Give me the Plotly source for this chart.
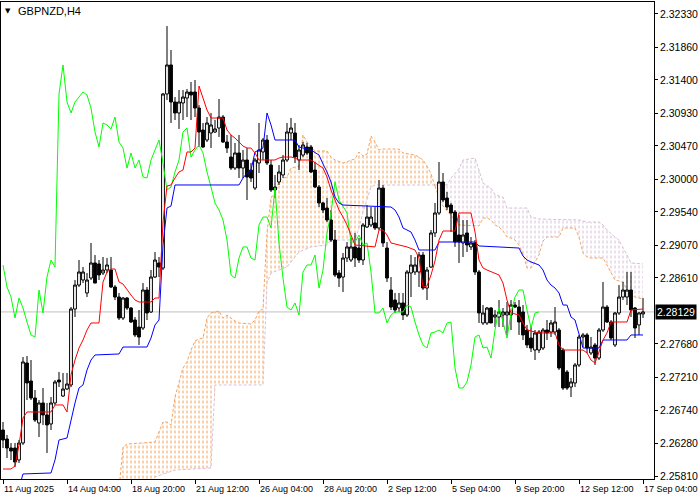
import plotly.graph_objects as go

symbol_label = "GBPNZD,H4"
last_price = 2.28129
chikou_shift = 26
cloud_cross = 108

bars = list(range(161))

opens = [2.26464, 2.26337, 2.26210, 2.26210, 2.26041, 2.26281, 2.27409, 2.27155, 2.26915, 2.26563,
         2.26845, 2.26676, 2.26549, 2.26845, 2.27169, 2.26943, 2.27042, 2.27099, 2.28170, 2.28508,
         2.28579, 2.28396, 2.28607, 2.28819, 2.28805, 2.28678, 2.28720, 2.28720, 2.28480, 2.28339,
         2.28043, 2.28325, 2.28184, 2.28015, 2.27916, 2.27902, 2.28438, 2.28128, 2.28621, 2.28819,
         2.28748, 2.31202, 2.31611, 2.31089, 2.30934, 2.31075, 2.31145, 2.31230, 2.31230, 2.31004,
         2.30694, 2.30553, 2.30652, 2.30666, 2.30722, 2.30877, 2.30525, 2.30313, 2.30158, 2.30370,
         2.30158, 2.30271, 2.30130, 2.29876, 2.30229, 2.30384, 2.30553, 2.30200, 2.29848, 2.29961,
         2.30060, 2.30271, 2.30652, 2.30652, 2.30271, 2.30341, 2.30454, 2.30454, 2.30130, 2.29890,
         2.29665, 2.29594, 2.29425, 2.29143, 2.28678, 2.28621, 2.28889, 2.28861, 2.29045, 2.29030,
         2.28861, 2.29326, 2.29355, 2.29383, 2.29312, 2.29876, 2.29030, 2.28438, 2.28297, 2.28184,
         2.28255, 2.28086, 2.28678, 2.28692, 2.28692, 2.28931, 2.28466, 2.28762, 2.29242, 2.29524,
         2.29961, 2.29735, 2.29636, 2.29538, 2.29214, 2.29101, 2.29242, 2.29045, 2.29101, 2.28692,
         2.27973, 2.27973, 2.28184, 2.28057, 2.28057, 2.28086, 2.28086, 2.28086, 2.28226, 2.28198,
         2.28128, 2.27874, 2.27761, 2.27592, 2.27592, 2.27620, 2.27874, 2.27846, 2.27846, 2.27874,
         2.27592, 2.27282, 2.27070, 2.27127, 2.27381, 2.27775, 2.27804, 2.27550, 2.27663, 2.27479,
         2.27874, 2.28198, 2.27987, 2.27663, 2.28114, 2.28339, 2.28339, 2.28438, 2.28184, 2.27945,
         2.28100]

highs = [2.26577, 2.26394, 2.26281, 2.26281, 2.26323, 2.27493, 2.27507, 2.27451, 2.27028, 2.26887,
         2.27056, 2.26845, 2.26929, 2.27169, 2.27282, 2.27268, 2.27268, 2.28198, 2.28579, 2.28861,
         2.28762, 2.28678, 2.29101, 2.28931, 2.28861, 2.28903, 2.28889, 2.28903, 2.28508, 2.28396,
         2.28339, 2.28339, 2.28198, 2.28057, 2.28156, 2.28536, 2.28480, 2.28720, 2.28974, 2.28903,
         2.31216, 2.32160, 2.31822, 2.31159, 2.31258, 2.31258, 2.31272, 2.31371, 2.31399, 2.31046,
         2.30793, 2.30877, 2.30934, 2.30835, 2.31131, 2.30905, 2.30624, 2.30624, 2.30511, 2.30624,
         2.30412, 2.30440, 2.30229, 2.30299, 2.30793, 2.30581, 2.30624, 2.30271, 2.30060, 2.30200,
         2.30341, 2.30793, 2.30863, 2.30793, 2.30483, 2.30525, 2.30511, 2.30483, 2.30243, 2.29919,
         2.29679, 2.29735, 2.29566, 2.29284, 2.28720, 2.28960, 2.29115, 2.29171, 2.29242, 2.29171,
         2.29383, 2.29636, 2.29608, 2.29608, 2.29989, 2.29919, 2.29115, 2.28621, 2.28396, 2.28396,
         2.28396, 2.28720, 2.28931, 2.28903, 2.28974, 2.28974, 2.28762, 2.29284, 2.29665, 2.30243,
         2.30088, 2.29820, 2.29665, 2.29566, 2.29496, 2.29425, 2.29425, 2.29185, 2.29143, 2.28720,
         2.28226, 2.28198, 2.28198, 2.28156, 2.28297, 2.28184, 2.28269, 2.28297, 2.28269, 2.28297,
         2.28226, 2.27945, 2.27916, 2.27874, 2.27874, 2.27902, 2.28015, 2.28015, 2.28198, 2.27902,
         2.27620, 2.27310, 2.27197, 2.27409, 2.27804, 2.27832, 2.27832, 2.27775, 2.27691, 2.27902,
         2.28551, 2.28226, 2.28015, 2.28128, 2.28508, 2.28551, 2.28692, 2.28692, 2.28198, 2.28128,
         2.28325]

lows = [2.26210, 2.26069, 2.26041, 2.25942, 2.25999, 2.26253, 2.26887, 2.26887, 2.26577, 2.26365,
        2.26535, 2.26140, 2.26464, 2.26817, 2.27070, 2.26929, 2.27028, 2.27070, 2.28057, 2.28480,
        2.28536, 2.28339, 2.28579, 2.28536, 2.28579, 2.28650, 2.28678, 2.28466, 2.28297, 2.28015,
        2.28015, 2.28156, 2.27973, 2.27775, 2.27663, 2.27874, 2.28015, 2.28114, 2.28607, 2.28621,
        2.28720, 2.31117, 2.30793, 2.30835, 2.30709, 2.30835, 2.30877, 2.30835, 2.30877, 2.30454,
        2.30440, 2.30525, 2.30440, 2.30652, 2.30596, 2.30511, 2.30370, 2.30130, 2.30130, 2.30017,
        2.30017, 2.29707, 2.29961, 2.29848, 2.30088, 2.30271, 2.30200, 2.29820, 2.29735, 2.29919,
        2.30017, 2.30243, 2.30553, 2.30229, 2.30130, 2.30313, 2.30341, 2.30088, 2.29876, 2.29608,
        2.29524, 2.29397, 2.29115, 2.28621, 2.28480, 2.28410, 2.28833, 2.28833, 2.28762, 2.28819,
        2.28791, 2.29312, 2.29326, 2.29284, 2.29284, 2.29045, 2.28551, 2.28156, 2.28114, 2.28128,
        2.28015, 2.28057, 2.28339, 2.28650, 2.28480, 2.28438, 2.28297, 2.28748, 2.29185, 2.29496,
        2.29679, 2.29566, 2.29256, 2.29045, 2.28819, 2.28903, 2.28974, 2.29002, 2.28650, 2.27973,
        2.27945, 2.27945, 2.27973, 2.27916, 2.27916, 2.27916, 2.27804, 2.27874, 2.28184, 2.27804,
        2.27733, 2.27620, 2.27564, 2.27451, 2.27550, 2.27592, 2.27733, 2.27775, 2.27804, 2.27310,
        2.27028, 2.27028, 2.26929, 2.27070, 2.27352, 2.27634, 2.27550, 2.27522, 2.27381, 2.27451,
        2.27846, 2.27973, 2.27733, 2.27634, 2.28086, 2.28297, 2.28226, 2.28057, 2.27761, 2.27804,
        2.28043]

closes = [2.26323, 2.26210, 2.26168, 2.26013, 2.26281, 2.27423, 2.27127, 2.26915, 2.26605, 2.26845,
          2.26676, 2.26535, 2.26845, 2.27141, 2.27141, 2.27042, 2.27113, 2.28170, 2.28508, 2.28692,
          2.28692, 2.28579, 2.28819, 2.28536, 2.28650, 2.28720, 2.28791, 2.28480, 2.28339, 2.28043,
          2.28325, 2.28184, 2.27987, 2.27804, 2.27775, 2.28438, 2.28114, 2.28621, 2.28861, 2.28762,
          2.31202, 2.31611, 2.31089, 2.30934, 2.31089, 2.31159, 2.31230, 2.31188, 2.31004, 2.30666,
          2.30454, 2.30793, 2.30765, 2.30709, 2.30877, 2.30525, 2.30440, 2.30158, 2.30370, 2.30158,
          2.30271, 2.30031, 2.30017, 2.30271, 2.30412, 2.30553, 2.30229, 2.29848, 2.29890, 2.30102,
          2.30271, 2.30666, 2.30722, 2.30313, 2.30412, 2.30483, 2.30370, 2.30102, 2.29890, 2.29665,
          2.29566, 2.29425, 2.29143, 2.28650, 2.28607, 2.28889, 2.29045, 2.29045, 2.28889, 2.28861,
          2.29355, 2.29467, 2.29467, 2.29312, 2.29876, 2.29101, 2.28607, 2.28198, 2.28156, 2.28255,
          2.28086, 2.28692, 2.28791, 2.28791, 2.28931, 2.28466, 2.28720, 2.29242, 2.29524, 2.29961,
          2.29707, 2.29608, 2.29524, 2.29115, 2.29115, 2.29214, 2.29073, 2.29101, 2.28692, 2.28114,
          2.28114, 2.28184, 2.27973, 2.28086, 2.28128, 2.28128, 2.28128, 2.28226, 2.28198, 2.27987,
          2.27804, 2.27663, 2.27620, 2.27832, 2.27846, 2.27874, 2.27832, 2.27973, 2.27987, 2.27338,
          2.27056, 2.27056, 2.27141, 2.27381, 2.27775, 2.27804, 2.27620, 2.27634, 2.27479, 2.27874,
          2.28198, 2.27987, 2.27761, 2.28114, 2.28339, 2.28438, 2.28438, 2.28156, 2.27902, 2.28114,
          2.28129]

# Ichimoku lines as (bar, price) points
tenkan = [(0, 2.25914), (2, 2.25914), (3, 2.25956), (4, 2.26253), (5, 2.26633), (6, 2.26718),
          (12, 2.26718), (13, 2.26817), (15, 2.26817), (16, 2.26718), (17, 2.27240), (18, 2.27451),
          (19, 2.27620), (20, 2.27733), (21, 2.27874), (22, 2.27973), (24, 2.27973), (25, 2.28551),
          (26, 2.28692), (27, 2.28734), (28, 2.28734), (29, 2.28551), (30, 2.28522), (31, 2.28438),
          (32, 2.28367), (33, 2.28297), (34, 2.28269), (37, 2.28269), (38, 2.28325), (39, 2.28325),
          (40, 2.29397), (41, 2.29904), (42, 2.29919), (43, 2.30017), (44, 2.30102), (45, 2.30130),
          (46, 2.30384), (47, 2.30384), (48, 2.30440), (49, 2.31314), (50, 2.31131), (51, 2.30976),
          (52, 2.30863), (55, 2.30863), (56, 2.30694), (57, 2.30624), (58, 2.30581), (59, 2.30525),
          (60, 2.30468), (61, 2.30440), (62, 2.30440), (63, 2.30370), (64, 2.30271), (68, 2.30271),
          (69, 2.30299), (70, 2.30313), (72, 2.30313), (73, 2.30299), (74, 2.30271), (77, 2.30271),
          (79, 2.30200), (80, 2.30158), (81, 2.30031), (82, 2.29848), (83, 2.29707), (84, 2.29566),
          (85, 2.29467), (86, 2.29355), (87, 2.29214), (88, 2.29073), (93, 2.29045), (94, 2.29284),
          (95, 2.29284), (96, 2.29214), (97, 2.29101), (99, 2.29073), (101, 2.29045), (103, 2.29002),
          (104, 2.28889), (105, 2.28480), (106, 2.28494), (107, 2.28650), (108, 2.28847), (109, 2.29143),
          (110, 2.29270), (113, 2.29270), (114, 2.29524), (117, 2.29524), (118, 2.29256), (119, 2.28861),
          (120, 2.28748), (121, 2.28720), (124, 2.28650), (125, 2.28536), (126, 2.28297), (127, 2.28114),
          (129, 2.28086), (130, 2.27973), (131, 2.27874), (134, 2.27832), (138, 2.27832), (139, 2.27663),
          (140, 2.27592), (145, 2.27592), (146, 2.27550), (147, 2.27451), (148, 2.27409), (149, 2.27564),
          (150, 2.27733), (151, 2.27832), (152, 2.27987), (156, 2.27987), (157, 2.28156), (160, 2.28170)]

kijun = [(0, 2.25646), (4, 2.25646), (5, 2.25844), (12, 2.25858), (13, 2.26041), (14, 2.26323),
         (16, 2.26351), (17, 2.26605), (18, 2.26845), (19, 2.27056), (20, 2.27099), (21, 2.27310),
         (22, 2.27451), (23, 2.27522), (29, 2.27536), (30, 2.27634), (36, 2.27634), (37, 2.27761),
         (38, 2.27945), (39, 2.28015), (40, 2.29073), (41, 2.29594), (42, 2.29622), (43, 2.29919),
         (59, 2.29919), (60, 2.30017), (61, 2.30088), (62, 2.30130), (63, 2.30384), (65, 2.30440),
         (66, 2.30934), (67, 2.30765), (68, 2.30553), (73, 2.30553), (74, 2.30454), (77, 2.30412),
         (79, 2.30341), (80, 2.30215), (81, 2.30102), (82, 2.29961), (83, 2.29749), (84, 2.29665),
         (85, 2.29636), (97, 2.29608), (98, 2.29566), (99, 2.29467), (100, 2.29312), (102, 2.29256),
         (103, 2.29143), (104, 2.29002), (108, 2.29002), (109, 2.29115), (118, 2.29115), (119, 2.29059),
         (126, 2.29045), (129, 2.29030), (130, 2.28917), (131, 2.28861), (132, 2.28833), (134, 2.28791),
         (135, 2.28720), (136, 2.28579), (137, 2.28508), (138, 2.28466), (139, 2.28396), (140, 2.28226),
         (141, 2.28226), (142, 2.28057), (143, 2.28015), (144, 2.27818), (145, 2.27620), (149, 2.27620),
         (150, 2.27733), (156, 2.27733), (157, 2.27804), (160, 2.27804)]

span_a = [(29, 2.25618), (30, 2.26224), (31, 2.26266), (38, 2.26295), (39, 2.26436), (40, 2.26577),
          (41, 2.26577), (42, 2.26535), (43, 2.26929), (44, 2.27155), (45, 2.27338), (46, 2.27423),
          (47, 2.27592), (48, 2.27719), (49, 2.27747), (50, 2.27761), (51, 2.28043), (52, 2.28114),
          (54, 2.28142), (55, 2.28043), (56, 2.28086), (57, 2.28043), (58, 2.28001), (59, 2.27973),
          (62, 2.27959), (63, 2.28015), (64, 2.28142), (65, 2.28170), (66, 2.29242), (67, 2.29749),
          (68, 2.29778), (69, 2.29975), (70, 2.30017), (71, 2.30031), (72, 2.30158), (74, 2.30186),
          (75, 2.30624), (76, 2.30525), (77, 2.30454), (78, 2.30398), (81, 2.30398), (82, 2.30313),
          (83, 2.30271), (85, 2.30229), (86, 2.30243), (87, 2.30271), (88, 2.30285), (89, 2.30384),
          (90, 2.30327), (91, 2.30356), (92, 2.30609), (93, 2.30525), (94, 2.30412), (95, 2.30426),
          (99, 2.30426), (100, 2.30370), (103, 2.30341), (104, 2.30313), (105, 2.30271), (106, 2.30186),
          (107, 2.30074), (108, 2.29904), (109, 2.29735), (110, 2.29622), (111, 2.29552), (112, 2.29496),
          (113, 2.29425), (114, 2.29355), (119, 2.29341), (120, 2.29453), (121, 2.29453), (122, 2.29425),
          (123, 2.29355), (124, 2.29326), (125, 2.29270), (126, 2.29185), (127, 2.29171), (128, 2.29143),
          (129, 2.29073), (130, 2.28946), (131, 2.28748), (132, 2.28748), (133, 2.28833), (134, 2.28931),
          (135, 2.29129), (136, 2.29185), (139, 2.29185), (140, 2.29312), (143, 2.29312), (144, 2.29185),
          (145, 2.28960), (146, 2.28903), (147, 2.28889), (150, 2.28889), (151, 2.28791), (152, 2.28678),
          (153, 2.28579), (155, 2.28551), (156, 2.28438), (157, 2.28367), (158, 2.28339), (159, 2.28325),
          (160, 2.28311)]

span_b = [(29, 2.25548), (37, 2.25618), (38, 2.25801), (43, 2.25900), (52, 2.25928), (53, 2.27099),
          (65, 2.27099), (66, 2.28536), (67, 2.28678), (71, 2.28762), (74, 2.28974), (77, 2.29045),
          (81, 2.29073), (82, 2.29143), (88, 2.29143), (89, 2.29312), (90, 2.29538), (91, 2.29707),
          (92, 2.29890), (93, 2.29919), (108, 2.29919), (111, 2.29919), (112, 2.30017), (113, 2.30088),
          (114, 2.30144), (115, 2.30271), (118, 2.30299), (119, 2.30130), (120, 2.29947), (121, 2.29904),
          (122, 2.29876), (123, 2.29778), (125, 2.29749), (126, 2.29594), (131, 2.29594), (132, 2.29467),
          (134, 2.29439), (144, 2.29425), (146, 2.29397), (149, 2.29397), (150, 2.29355), (151, 2.29284),
          (152, 2.29228), (153, 2.29185), (154, 2.29143), (155, 2.29045), (156, 2.28931), (157, 2.28819),
          (160, 2.28805)]

x_tick_bars = [0, 16, 32, 48, 64, 80, 96, 112, 128, 144, 160]
x_tick_text = ["11 Aug 2025", "14 Aug 04:00", "18 Aug 20:00", "21 Aug 12:00", "26 Aug 04:00",
               "28 Aug 20:00", "2 Sep 12:00", "5 Sep 04:00", "9 Sep 20:00", "12 Sep 12:00",
               "17 Sep 04:00"]
y_tick_vals = [2.25810, 2.26280, 2.26740, 2.27210, 2.27680, 2.28610, 2.29070, 2.29540,
               2.30000, 2.30470, 2.30930, 2.31400, 2.31860, 2.32330]

FONT = "Liberation Sans, Arial, sans-serif"
COL_A = "#F4A460"
COL_B = "#D8BFD8"
X_RANGE = [-0.5, 162.75]
Y_RANGE = [2.25773, 2.32499]


def seg(pairs, lo, hi):
    pts = [p for p in pairs if lo <= p[0] <= hi]
    return [p[0] for p in pts], [p[1] for p in pts]


fig = go.Figure()
cloud_parts = [(0, cloud_cross, COL_A), (cloud_cross, 10 ** 6, COL_B)]

# Kumo on the base axes: vertical hatch lines, broken into dashes by white gaps
for lo, hi, col in cloud_parts:
    bx, by = seg(span_b, lo, hi)
    ax, ay = seg(span_a, lo, hi)
    for shape, size, sol, fg, op in [("|", 4, 0.25, col, 1.0), ("-", 5, 0.4, "white", 1.0)]:
        fig.add_trace(go.Scatter(x=bx, y=by, mode="lines", hoverinfo="skip",
                                 line=dict(width=0, color=COL_B)))
        fig.add_trace(go.Scatter(x=ax, y=ay, mode="lines", hoverinfo="skip",
                                 line=dict(width=0, color=COL_A),
                                 fill="tonexty", fillcolor="rgba(0,0,0,0)",
                                 fillpattern=dict(shape=shape, size=size, solidity=sol,
                                                  fgcolor=fg, fgopacity=op,
                                                  bgcolor="rgba(0,0,0,0)")))

# Senkou span edges (dotted)
for lo, hi, col in cloud_parts:
    bx, by = seg(span_b, lo, hi)
    ax, ay = seg(span_a, lo, hi)
    fig.add_trace(go.Scatter(x=bx, y=by, mode="lines", hoverinfo="skip",
                             line=dict(color=COL_B, width=1, dash="3px,2px")))
    fig.add_trace(go.Scatter(x=ax, y=ay, mode="lines", hoverinfo="skip",
                             line=dict(color=COL_A, width=1, dash="3px,2px")))

# Price bars and the other lines on an overlaid, identical pair of axes (drawn on top)
fig.add_trace(go.Candlestick(
    x=bars, open=opens, high=highs, low=lows, close=closes, xaxis="x2", yaxis="y2",
    increasing=dict(line=dict(color="black", width=1), fillcolor="white"),
    decreasing=dict(line=dict(color="black", width=1), fillcolor="black"),
    whiskerwidth=0, hoverinfo="skip"))

fig.add_trace(go.Scatter(x=bars[:len(bars) - chikou_shift], y=closes[chikou_shift:],
                         xaxis="x2", yaxis="y2", mode="lines",
                         line=dict(color="#00FF00", width=1), hoverinfo="skip"))
kx, ky = seg(kijun, -1, 10 ** 6)
fig.add_trace(go.Scatter(x=kx, y=ky, xaxis="x2", yaxis="y2", mode="lines",
                         line=dict(color="#0000FF", width=1), hoverinfo="skip"))
tx, ty = seg(tenkan, -1, 10 ** 6)
fig.add_trace(go.Scatter(x=tx, y=ty, xaxis="x2", yaxis="y2", mode="lines",
                         line=dict(color="#FF0000", width=1), hoverinfo="skip"))

fig.add_shape(type="line", xref="paper", x0=0, x1=1, yref="y", y0=last_price, y1=last_price,
              line=dict(color="#C0C0C0", width=1), layer="below")

annotations = []
for b, t in zip(x_tick_bars, x_tick_text):
    annotations.append(dict(x=b, xref="x", y=0, yref="paper", text=t, showarrow=False,
                            xanchor="left", yanchor="top", xshift=-1, yshift=-3,
                            font=dict(family=FONT, size=9, color="black")))
for v in y_tick_vals:
    annotations.append(dict(x=1, xref="paper", y=v, yref="y", text=f"{v:.5f}", showarrow=False,
                            xanchor="left", yanchor="middle", xshift=4,
                            font=dict(family=FONT, size=10.5, color="black")))
annotations.append(dict(x=1, xref="paper", y=last_price, yref="y", text=f"{last_price:.5f}",
                        showarrow=False, xanchor="left", yanchor="middle", xshift=1,
                        bgcolor="black", borderpad=1,
                        font=dict(family=FONT, size=10.5, color="white")))
annotations.append(dict(x=0, xref="paper", y=1, yref="paper", text="\u25BC", showarrow=False,
                        xanchor="left", yanchor="top", xshift=2, yshift=-3,
                        font=dict(family="DejaVu Sans", size=7, color="black")))
annotations.append(dict(x=0, xref="paper", y=1, yref="paper", text=symbol_label, showarrow=False,
                        xanchor="left", yanchor="top", xshift=15, yshift=-1,
                        font=dict(family=FONT, size=11, color="black")))

fig.update_layout(
    width=700, height=500, margin=dict(l=1, r=46, t=2, b=21),
    paper_bgcolor="white", plot_bgcolor="white", showlegend=False,
    font=dict(family=FONT, size=10, color="black"),
    boxgap=0.3, boxgroupgap=0, annotations=annotations,
    xaxis=dict(range=X_RANGE, rangeslider=dict(visible=False), showgrid=False, zeroline=False,
               tickvals=x_tick_bars, showticklabels=False, ticks="outside", ticklen=4,
               tickcolor="black", showline=True, linecolor="black", linewidth=1, mirror=True),
    yaxis=dict(side="right", range=Y_RANGE, tickvals=y_tick_vals, showticklabels=False,
               ticks="outside", ticklen=3, tickcolor="black", showgrid=False, zeroline=False,
               showline=True, linecolor="black", linewidth=1, mirror=True),
    xaxis2=dict(range=X_RANGE, overlaying="x", visible=False, rangeslider=dict(visible=False)),
    yaxis2=dict(range=Y_RANGE, overlaying="y", side="right", visible=False),
)

fig.write_html("out.html", config={"displayModeBar": False},
               post_script="document.body.style.margin='0';")
